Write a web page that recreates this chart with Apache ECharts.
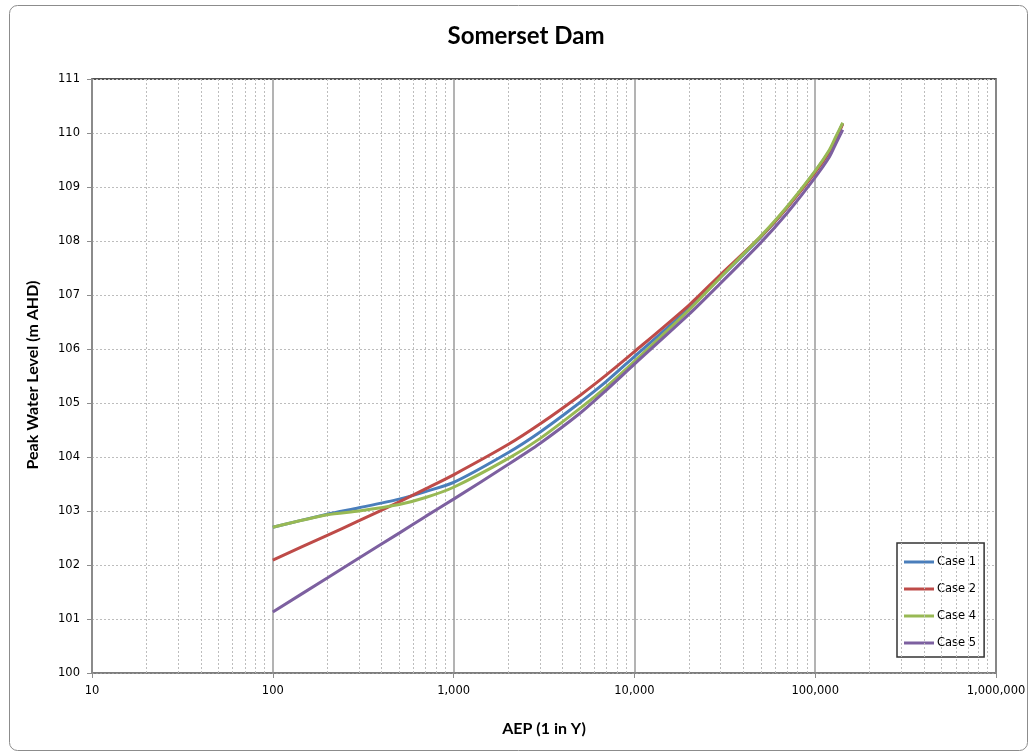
<!DOCTYPE html>
<html>
<head>
<meta charset="utf-8">
<script src="https://cdn.jsdelivr.net/npm/echarts@6/dist/echarts.min.js"></script>
<style>
html,body{margin:0;padding:0;background:#fff;}
#chart{width:1031px;height:753px;}
</style>
</head>
<body>
<div id="chart"></div>
<script>
const titleText = 'Somerset Dam';
const xTitle = 'AEP (1 in Y)';
const yTitle = 'Peak Water Level (m AHD)';
const seriesNames = ['Case 1', 'Case 2', 'Case 4', 'Case 5'];
const aep = [100, 200, 300, 500, 700, 1000, 2000, 3000, 5000, 7000, 10000, 20000, 30000, 50000, 70000, 100000, 120000, 130000, 142000];
const case1 = [102.70, 102.94, 103.06, 103.22, 103.36, 103.53, 104.08, 104.46, 105.01, 105.40, 105.86, 106.75, 107.33, 108.07, 108.62, 109.29, 109.67, 109.90, 110.18];
const case2 = [102.09, 102.55, 102.82, 103.17, 103.41, 103.67, 104.23, 104.61, 105.14, 105.52, 105.95, 106.81, 107.38, 108.08, 108.62, 109.27, 109.65, 109.88, 110.17];
const case4 = [102.70, 102.93, 103.00, 103.12, 103.25, 103.44, 103.97, 104.34, 104.90, 105.30, 105.77, 106.72, 107.33, 108.09, 108.64, 109.30, 109.69, 109.93, 110.19];
const case5 = [101.13, 101.76, 102.13, 102.59, 102.90, 103.22, 103.86, 104.25, 104.81, 105.24, 105.72, 106.64, 107.22, 107.97, 108.52, 109.18, 109.56, 109.80, 110.06];
const colors = ['#4A7EBB', '#BE4B48', '#98B954', '#7D60A0'];
const xMin = 10, xMax = 1000000, yMin = 100, yMax = 111;

// minor log gridline positions (2..9 x each decade)
const minorGrid = [];
for (let d = 10; d < xMax; d *= 10) {
  for (let k = 2; k <= 9; k++) minorGrid.push(k * d);
}

const allCases = [case1, case2, case4, case5];
const lineSeries = allCases.map((vals, i) => ({
  name: seriesNames[i],
  type: 'line',
  smooth: 0.25,
  symbol: 'none',
  showSymbol: false,
  data: aep.map((x, j) => [x, vals[j]]),
  lineStyle: { width: 3, color: colors[i] },
  itemStyle: { color: colors[i] },
  z: 5 + i
}));

lineSeries.push({
  name: 'minorgrid',
  type: 'line',
  data: [],
  silent: true,
  markLine: {
    silent: true,
    symbol: ['none', 'none'],
    label: { show: false },
    lineStyle: { color: '#bdbdbd', type: [2, 2], width: 1 },
    data: minorGrid.map(v => ({ xAxis: v }))
  },
  z: 1
});

const chart = echarts.init(document.getElementById('chart'), null, { renderer: 'canvas' });
chart.setOption({
  animation: false,
  backgroundColor: '#fff',
  title: {
    text: titleText,
    left: 521, top: 19, textAlign: 'center',
    textStyle: { fontFamily: 'Lato', fontWeight: 'bold', fontSize: 24, color: '#000' }
  },
  grid: {
    left: 92, right: 35, top: 79, bottom: 80,
    show: true, borderColor: '#1a1a1a', borderWidth: 1.5, backgroundColor: '#fff'
  },
  legend: {
    data: seriesNames,
    orient: 'vertical',
    left: 897, top: 543,
    padding: [13, 8, 8, 7],
    itemGap: 15,
    itemWidth: 30, itemHeight: 14,
    icon: 'path://M0,6 L30,6 L30,9 L0,9 Z',
    backgroundColor: '#fff',
    borderColor: '#333', borderWidth: 1.5,
    textStyle: { fontFamily: 'DejaVu Sans', fontSize: 11.5, color: '#000', padding: [0, 0, 0, -2] }
  },
  xAxis: {
    type: 'log', logBase: 10, min: xMin, max: xMax, interval: 1,
    axisLine: { show: true, lineStyle: { color: '#8c8c8c', width: 1.5 } },
    axisTick: { show: true, length: 5, lineStyle: { color: '#8c8c8c' } },
    axisLabel: {
      fontFamily: 'DejaVu Sans', fontSize: 11.5, color: '#000', margin: 12,
      formatter: v => Math.round(v).toLocaleString('en-US')
    },
    splitLine: { show: true, lineStyle: { color: '#9a9a9a', width: 1.5 } }
  },
  yAxis: {
    type: 'value', min: yMin, max: yMax, interval: 1,
    axisLine: { show: true, lineStyle: { color: '#8c8c8c', width: 1.5 } },
    axisTick: { show: true, length: 5, lineStyle: { color: '#8c8c8c' } },
    axisLabel: { fontFamily: 'DejaVu Sans', fontSize: 11.5, color: '#000', margin: 12 },
    splitLine: { show: true, lineStyle: { color: '#bdbdbd', type: [2, 2], width: 1 } }
  },
  graphic: [
    {
      type: 'rect', left: 7, top: 3, z: -10,
      shape: { width: 1018, height: 745, r: 8 },
      style: { fill: 'none', stroke: '#8c8c8c', lineWidth: 1 }
    },
    {
      type: 'text', x: 544, y: 729,
      style: { text: xTitle, fontFamily: 'Lato', fontWeight: 'bold', fontSize: 16, fill: '#000', align: 'center', verticalAlign: 'middle' }
    },
    {
      type: 'text', x: 33, y: 375, rotation: Math.PI / 2,
      style: { text: yTitle, fontFamily: 'Lato', fontWeight: 'bold', fontSize: 16, fill: '#000', align: 'center', verticalAlign: 'middle' }
    }
  ],
  series: lineSeries
});
</script>
</body>
</html>
